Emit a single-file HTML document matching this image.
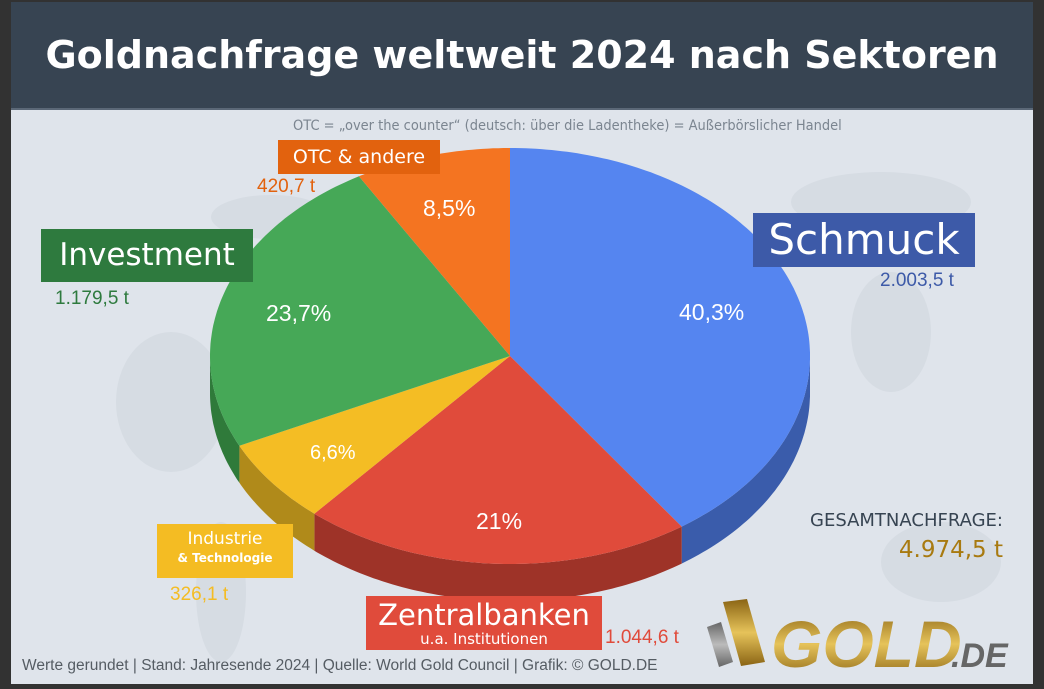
<!DOCTYPE html>
<html><head><meta charset="utf-8"><style>
html,body{margin:0;padding:0;}
body{width:1044px;height:689px;background:#323232;position:relative;overflow:hidden;font-family:"Liberation Sans",sans-serif;}
#card{position:absolute;left:11px;top:2px;width:1022px;height:682px;background:#dfe4eb;overflow:hidden;}
#title{position:absolute;left:0;top:0;width:1022px;height:106px;background:#374452;border-bottom:2px solid #5b6877;color:#fff;font-family:"DejaVu Sans","Liberation Sans",sans-serif;font-weight:bold;font-size:38px;line-height:106px;text-align:center;}
.a{position:absolute;white-space:nowrap;}
.box{position:absolute;color:#fff;text-align:center;font-family:"DejaVu Sans","Liberation Sans",sans-serif;}
svg{position:absolute;left:0;top:0;}
</style></head><body>
<div id="card">
<div id="title">Goldnachfrage weltweit 2024 nach Sektoren</div>
<svg width="1022" height="682" id="s">
 <g fill="#d6dce3">
  <ellipse cx="260" cy="215" rx="60" ry="22"/>
  <ellipse cx="870" cy="200" rx="90" ry="30"/>
  <ellipse cx="930" cy="560" rx="60" ry="40"/>
  <ellipse cx="210" cy="590" rx="25" ry="70"/>
  <ellipse cx="160" cy="400" rx="55" ry="70"/>
  <ellipse cx="880" cy="330" rx="40" ry="60"/>
 </g>
 <g id="pie"></g>
</svg>
<div class="a" style="left:282px;top:116px;font-size:14px;color:#7b8590;font-family:'DejaVu Sans',sans-serif;transform:scaleX(0.93);transform-origin:left;">OTC = „over the counter“ (deutsch: über die Ladentheke) = Außerbörslicher Handel</div>

<div class="box" style="left:742px;top:211px;width:222px;height:54px;background:#3d5aa8;font-size:42px;line-height:54px;">Schmuck</div>
<div class="a" style="left:869px;top:268px;font-size:19px;color:#3d5aa8;">2.003,5 t</div>

<div class="box" style="left:30px;top:227px;width:212px;height:53px;background:#2e7a3e;font-size:31px;line-height:53px;">Investment</div>
<div class="a" style="left:44px;top:286px;font-size:19px;color:#2e7a3e;">1.179,5 t</div>

<div class="box" style="left:267px;top:138px;width:162px;height:34px;background:#e2620e;font-size:19px;line-height:34px;">OTC &amp; andere</div>
<div class="a" style="left:246px;top:174px;font-size:19px;color:#e2620e;">420,7 t</div>

<div class="box" style="left:146px;top:522px;width:136px;height:54px;background:#f4bc23;"><div style="font-size:17px;margin-top:5px;">Industrie</div><div style="font-size:12px;font-weight:bold;margin-top:2px;">&amp; Technologie</div></div>
<div class="a" style="left:159px;top:582px;font-size:19px;color:#f4bc23;">326,1 t</div>

<div class="box" style="left:355px;top:594px;width:236px;height:54px;background:#e04b3b;"><div style="font-size:29px;line-height:32px;margin-top:3px;">Zentralbanken</div><div style="font-size:15px;line-height:16px;">u.a. Institutionen</div></div>
<div class="a" style="left:594px;top:625px;font-size:19px;color:#e04b3b;">1.044,6 t</div>

<div class="a" style="right:30px;top:508px;font-size:18px;color:#374452;font-family:'DejaVu Sans',sans-serif;">GESAMTNACHFRAGE:</div>
<div class="a" style="right:30px;top:535px;font-size:23px;color:#a87a10;font-family:'DejaVu Sans',sans-serif;">4.974,5 t</div>

<div class="a" style="left:11px;top:655px;font-size:15.5px;color:#555c63;">Werte gerundet | Stand: Jahresende 2024 | Quelle: World Gold Council | Grafik: © GOLD.DE</div>

<svg width="1022" height="682" style="pointer-events:none">
 <defs>
  <linearGradient id="gd" x1="0" y1="0" x2="0" y2="1"><stop offset="0" stop-color="#8a6414"/><stop offset="0.5" stop-color="#e6c35a"/><stop offset="1" stop-color="#8a6414"/></linearGradient>
  <linearGradient id="sv" x1="0" y1="0" x2="0" y2="1"><stop offset="0" stop-color="#666"/><stop offset="0.5" stop-color="#bbb"/><stop offset="1" stop-color="#666"/></linearGradient>
 </defs>
 <path d="M696 625 L710 620 L722 660 L708 665 Z" fill="url(#sv)"/>
 <path d="M712 600 L736 597 L754 660 L730 664 Z" fill="url(#gd)"/>
 <text x="760" y="665" font-family="Liberation Sans,sans-serif" font-weight="bold" font-style="italic" font-size="66" fill="url(#gd)">GOLD</text>
 <text x="940" y="665" font-family="Liberation Sans,sans-serif" font-weight="bold" font-style="italic" font-size="34" fill="#666">.DE</text>
</svg>

<div class="a" style="left:668px;top:297px;font-size:23px;color:#fff;">40,3%</div>
<div class="a" style="left:255px;top:298px;font-size:23px;color:#fff;">23,7%</div>
<div class="a" style="left:412px;top:193px;font-size:23px;color:#fff;">8,5%</div>
<div class="a" style="left:299px;top:440px;font-size:20px;color:#fff;">6,6%</div>
<div class="a" style="left:465px;top:506px;font-size:23px;color:#fff;">21%</div>
</div>
<script>
(function(){
var cx=510-11,cy=356-2,rx=300,ry=208,d=37;
function P(t,dy){t=t*Math.PI/180;return [(cx+rx*Math.sin(t)).toFixed(1),(cy-ry*Math.cos(t)+(dy||0)).toFixed(1)];}
var seg=[[0,145.08,'#5585f0','#3a5cab'],[145.08,220.68,'#e04b3b','#9e3328'],[220.68,244.44,'#f4bd24','#b08a1a'],[244.44,329.76,'#46a857','#2f7a3a'],[329.76,360,'#f47421','#b85417']];
var g=document.getElementById('pie'),h='';
seg.forEach(function(s){
 var a=Math.max(s[0],90),b=Math.min(s[1],270);
 if(b>a){var pts=[];for(var t=a;t<=b;t+=1)pts.push(P(t));pts.push(P(b));
  var back=[];for(var i=pts.length-1;i>=0;i--){back.push([pts[i][0],(+pts[i][1]+d).toFixed(1)]);}
  h+='<path fill="'+s[3]+'" d="M'+pts.concat(back).map(function(p){return p.join(' ')}).join(' L')+' Z"/>';}
});
seg.forEach(function(s){
 var pts=[[cx,cy]];for(var t=s[0];t<=s[1];t+=1)pts.push(P(t));pts.push(P(s[1]));
 h+='<path fill="'+s[2]+'" d="M'+pts.map(function(p){return p.join(' ')}).join(' L')+' Z"/>';
});
g.innerHTML=h;
})();
</script>
</body></html>
